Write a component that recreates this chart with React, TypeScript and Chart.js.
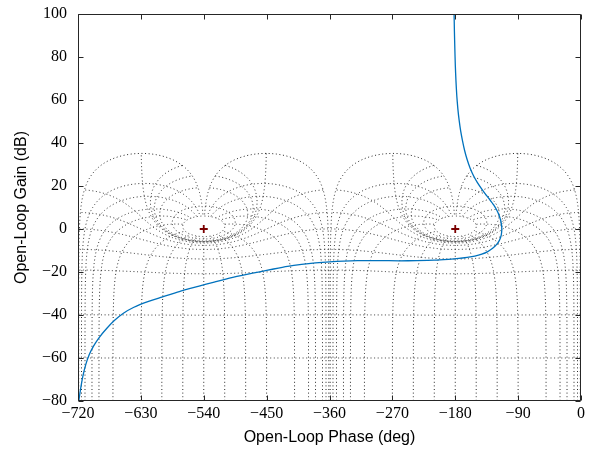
import { useEffect, useRef } from "react";
import { Chart, registerables } from "chart.js";

Chart.register(...registerables);

// ---- Open-loop response ----
const curvePhase = [
  -181.7, -181.2, -180.6, -179.9, -179.0, -177.8, -176.3, -174.4, -172.2, -169.6,
  -166.6, -163.0, -158.8, -154.0, -148.5, -142.5, -136.5, -130.5, -125.0, -120.5,
  -117.0, -114.7, -113.5, -113.6, -114.8, -117.2, -121.0, -126.5, -133.5, -142.0,
  -152.0, -163.0, -175.0, -190.0, -210.0, -235.0, -260.0, -290.0, -320.0, -340.0,
  -360.0, -380.0, -400.0, -420.0, -440.0, -460.0, -480.0, -500.0, -525.0, -548.0,
  -575.0, -600.0, -620.0, -640.0, -655.0, -668.0, -679.0, -690.0, -698.0, -704.0,
  -709.0, -713.0, -716.0, -718.5, -720.0,
];
const curveGain = [
  101, 92, 84, 76, 69, 62, 56, 50.5, 45.5, 41,
  36.5, 32.3, 28.4, 24.9, 21.7, 18.8, 16.1, 13.6, 11.2, 8.7,
  6.2, 3.6, 1.0, -1.5, -3.6, -5.5, -7.3, -9.0, -10.5, -11.7,
  -12.6, -13.2, -13.7, -14.1, -14.5, -14.7, -14.8, -14.7, -14.7, -14.9,
  -15.3, -15.8, -16.5, -17.4, -18.6, -19.9, -21.2, -22.6, -24.7, -26.7,
  -29.1, -31.7, -33.8, -36.4, -39.2, -42.6, -46.3, -50.6, -54.6, -58.5,
  -63.2, -68.4, -73.8, -79.2, -83.0,
];

// ---- Critical points ----
const criticalPhases = [-180, -540];
const criticalGains = [0, 0];

// ---- Nichols grid definition (closed-loop values) ----
const closedLoopGainsDb = [6, 3, 1, 0.5, 0.25, 0, -1, -3, -6, -12, -20, -40, -60];
const closedLoopPhasesDeg = [1, 5, 10, 20, 30, 50, 90, 120, 150, 180];
const gridWindows = [0, -360];

// ---- Axes ----
const phaseMin = -720;
const phaseMax = 0;
const phaseStep = 90;
const gainMin = -80;
const gainMax = 100;
const gainStep = 20;
const xTitle = "Open-Loop Phase (deg)";
const yTitle = "Open-Loop Gain (dB)";

type Pt = { x: number; y: number };

function toNichols(re: number, im: number): [number, number] {
  const d = (1 - re) * (1 - re) + im * im;
  const lr = (re - (re * re + im * im)) / d;
  const li = im / d;
  return [(Math.atan2(li, lr) * 180) / Math.PI, 10 * Math.log10(lr * lr + li * li)];
}

function unwrap(raw: [number, number][], shift: number): Pt[] {
  const out: Pt[] = [];
  let prev = NaN;
  for (const [p0, g] of raw) {
    let p = p0;
    if (isNaN(prev)) {
      while (p > 0) p -= 360;
      while (p <= -360) p += 360;
    } else {
      while (p - prev > 180) p -= 360;
      while (p - prev < -180) p += 360;
    }
    prev = p;
    out.push({ x: p + shift, y: g });
  }
  return out;
}

function radiusSamplesDb(): number[] {
  const a: number[] = [];
  for (let g = -100; g < -20; g += 2) a.push(g);
  for (let g = -20; g < -3; g += 0.25) a.push(g);
  for (let g = -3; g < 3; g += 0.02) a.push(g);
  for (let g = 3; g <= 6.0001; g += 0.1) a.push(g);
  return a;
}

function angleSamplesDeg(): number[] {
  const a: number[] = [];
  for (let t = -1; t > -10; t -= 0.1) a.push(t);
  for (let t = -10; t > -350; t -= 0.5) a.push(t);
  for (let t = -350; t >= -359.0001; t -= 0.1) a.push(t);
  return a;
}

function isoGainLines(): Pt[][] {
  const lines: Pt[][] = [];
  const thetas = angleSamplesDeg();
  for (const shift of gridWindows) {
    for (const gdb of closedLoopGainsDb) {
      const m = Math.pow(10, gdb / 20);
      const raw = thetas.map((t) => {
        const a = (t * Math.PI) / 180;
        return toNichols(m * Math.cos(a), m * Math.sin(a));
      });
      lines.push(unwrap(raw, shift));
    }
  }
  return lines;
}

function isoPhaseLines(): Pt[][] {
  const lines: Pt[][] = [];
  const radii = radiusSamplesDb();
  const phis: number[] = [];
  for (const p of closedLoopPhasesDeg) {
    phis.push(-p);
    if (p < 180) phis.push(-(360 - p));
  }
  for (const shift of gridWindows) {
    for (const phi of phis) {
      const a = (phi * Math.PI) / 180;
      const raw = radii.map((rdb) => {
        const r = Math.pow(10, rdb / 20);
        return toNichols(r * Math.cos(a), r * Math.sin(a));
      });
      lines.push(unwrap(raw, shift));
    }
  }
  return lines;
}

const minus = (v: number | string) => String(v).replace("-", "\u2212");

const framePlugin = {
  id: "matlabFrame",
  afterDatasetsDraw(chart: any) {
    const { ctx, chartArea: a, scales } = chart;
    const L = Math.round(a.left) + 0.5;
    const R = Math.round(a.right) - 0.5;
    const T = Math.round(a.top) + 0.5;
    const B = Math.round(a.bottom) - 0.5;
    const tl = 5;
    ctx.save();
    ctx.strokeStyle = "#262626";
    ctx.lineWidth = 1;
    ctx.beginPath();
    ctx.rect(L, T, R - L, B - T);
    for (const t of scales.x.ticks) {
      const px = Math.round(scales.x.getPixelForValue(t.value)) + 0.5;
      ctx.moveTo(px, B);
      ctx.lineTo(px, B - tl);
      ctx.moveTo(px, T);
      ctx.lineTo(px, T + tl);
    }
    for (const t of scales.y.ticks) {
      const py = Math.round(scales.y.getPixelForValue(t.value)) + 0.5;
      ctx.moveTo(L, py);
      ctx.lineTo(L + tl, py);
      ctx.moveTo(R, py);
      ctx.lineTo(R - tl, py);
    }
    ctx.stroke();
    ctx.restore();
  },
};

export default function App() {
  const ref = useRef<HTMLCanvasElement | null>(null);

  useEffect(() => {
    document.body.style.margin = "0";
    const canvas = ref.current;
    if (!canvas) return;

    const gridStyle = {
      borderColor: "rgba(0,0,0,0.85)",
      borderWidth: 1,
      borderDash: [1, 2.6],
      pointRadius: 0,
      tension: 0,
      fill: false,
    };

    const gridSets = [...isoGainLines(), ...isoPhaseLines()].map((pts) => ({
      data: pts,
      ...gridStyle,
    }));

    const curve: Pt[] = curvePhase.map((p, i) => ({ x: p, y: curveGain[i] }));
    const crit: Pt[] = criticalPhases.map((p, i) => ({ x: p, y: criticalGains[i] }));

    const chart = new Chart(canvas, {
      type: "line",
      data: {
        datasets: [
          {
            data: crit,
            showLine: false,
            pointStyle: "cross",
            pointRadius: 4,
            pointBorderWidth: 1.8,
            pointBorderColor: "#7a0000",
            pointBackgroundColor: "#7a0000",
            borderColor: "#7a0000",
          } as any,
          {
            data: curve,
            borderColor: "#0072BD",
            borderWidth: 1.3,
            pointRadius: 0,
            tension: 0.2,
            fill: false,
          },
          ...gridSets,
        ],
      },
      options: {
        responsive: false,
        animation: false,
        devicePixelRatio: 1,
        layout: { padding: { top: 14, right: 9, left: 0, bottom: 0 } },
        plugins: {
          legend: { display: false },
          tooltip: { enabled: false },
        },
        scales: {
          x: {
            type: "linear",
            min: phaseMin,
            max: phaseMax,
            grid: { display: false, drawTicks: true, tickLength: 3 },
            border: { display: false },
            ticks: {
              stepSize: phaseStep,
              padding: 0,
              color: "#000",
              font: { family: "'Liberation Serif', 'DejaVu Serif', serif", size: 16 },
              callback: (v: any) => minus(v),
              maxRotation: 0,
            },
            title: {
              display: true,
              text: xTitle,
              color: "#000",
              font: { family: "'Liberation Sans', Arial, sans-serif", size: 16 },
              padding: { top: 0, bottom: 4 },
            },
            afterFit: (axis: any) => {
              axis.height = 50;
            },
          },
          y: {
            type: "linear",
            min: gainMin,
            max: gainMax,
            grid: { display: false, drawTicks: true, tickLength: 11 },
            border: { display: false },
            ticks: {
              stepSize: gainStep,
              padding: 0,
              color: "#000",
              font: { family: "'Liberation Serif', 'DejaVu Serif', serif", size: 16 },
              callback: (v: any) => minus(v),
            },
            title: {
              display: true,
              text: yTitle,
              color: "#000",
              font: { family: "'Liberation Sans', Arial, sans-serif", size: 16 },
              padding: { top: 12, bottom: 0 },
            },
            afterFit: (axis: any) => {
              axis.width = 78;
            },
          },
        },
      },
      plugins: [framePlugin],
    });

    return () => chart.destroy();
  }, []);

  return (
    <div style={{ width: 590, height: 451 }}>
      <canvas ref={ref} width={590} height={451} style={{ display: "block" }} />
    </div>
  );
}
